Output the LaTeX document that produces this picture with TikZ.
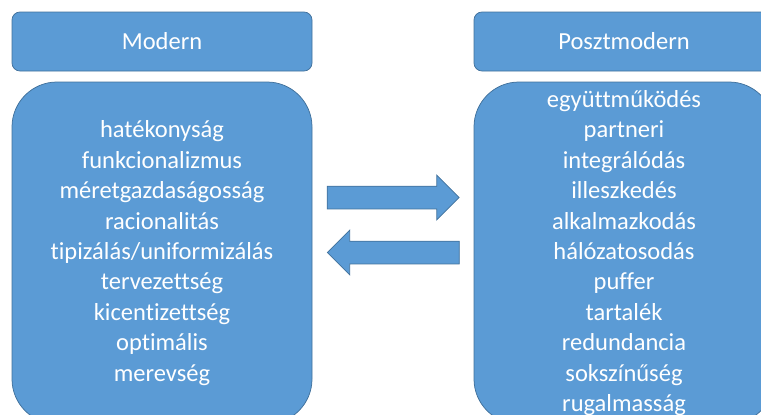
\documentclass[tikz,border=0pt]{standalone}
\usepackage{fontspec}
\setmainfont[Ligatures=NoCommon]{Carlito}
\usetikzlibrary{shapes.arrows}
\definecolor{boxblue}{HTML}{5B9BD5}
\definecolor{boxline}{HTML}{41719C}
\tikzstyle{head}=[draw=boxline, fill=boxblue, text=white, line width=0.75pt,
rounded corners=8pt, minimum width=300pt, minimum height=59pt,
font=\fontsize{24.5}{29}\selectfont]
\tikzstyle{list}=[head, rounded corners=45pt, minimum height=342pt,% tall body
align=center, font=\fontsize{24.5}{30.4}\selectfont]
\tikzstyle{swap}=[single arrow, draw=boxline, fill=boxblue, line width=0.75pt,
inner xsep=0pt, inner ysep=11pt, minimum height=132pt,
single arrow head extend=11pt]
\begin{document}
\begin{tikzpicture}[x=1pt,y=-1pt]
\useasboundingbox (0,0) rectangle (761,415);
\node[head] (modern) at (162,41.5) {Modern};
\node[head] (posztmodern) at (624,41.5) {Posztmodern};
\node[list] (mlist) at (162,253) {hatékonyság\\funkcionalizmus\\méretgazdaságosság\\racionalitás\\tipizálás/uniformizálás\\tervezettség\\kicentizettség\\optimális\\merevség};
\node[list] (plist) at (624,253) {együttműködés\\partneri\\integrálódás\\illeszkedés\\alkalmazkodás\\hálózatosodás\\puffer\\tartalék\\redundancia\\sokszínűség\\rugalmasság};
\node[swap] (toright) at (387.5,197.5) {};
\node[swap, shape border rotate=180] (toleft) at (399,252.5) {};
\end{tikzpicture}
\end{document}
